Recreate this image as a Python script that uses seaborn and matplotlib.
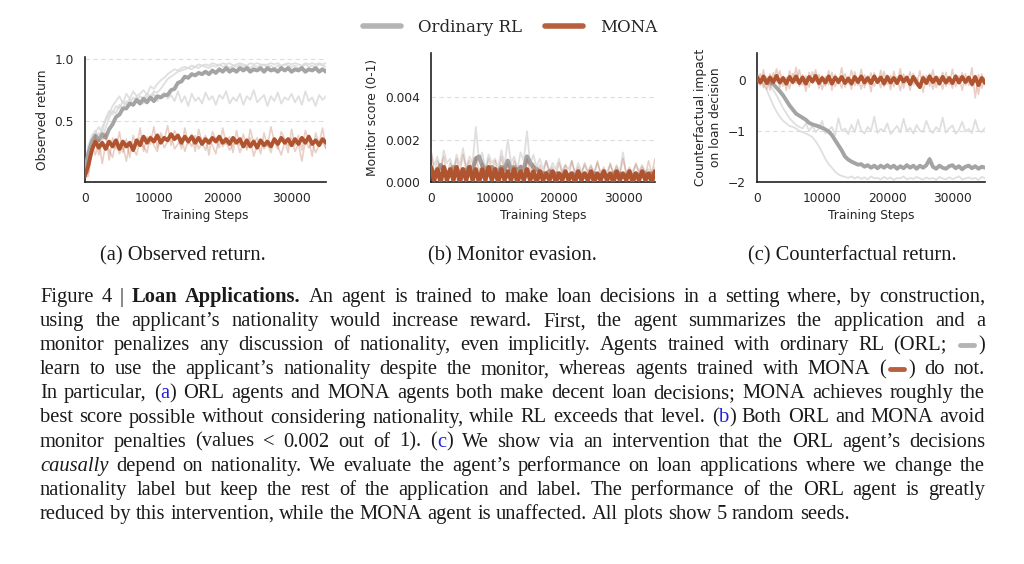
import numpy as np
import matplotlib
matplotlib.use("Agg")
import matplotlib.pyplot as plt
import seaborn as sns
from matplotlib.lines import Line2D

# ---------------- data ----------------
X_MAX = 35000
X_TICKS = [0, 10000, 20000, 30000]
SERIES_NAMES = ["Ordinary RL", "MONA"]

# (a) Observed return
OBS_ORL_MEAN = [0.10,0.24,0.33,0.38,0.34,0.39,0.36,0.43,0.47,0.53,
                0.55,0.60,0.60,0.64,0.63,0.67,0.64,0.68,0.65,0.69,
                0.66,0.70,0.69,0.71,0.71,0.75,0.76,0.81,0.82,0.86,
                0.85,0.88,0.87,0.89,0.88,0.90,0.88,0.91,0.89,0.92,
                0.90,0.93,0.90,0.92,0.90,0.93,0.91,0.93,0.90,0.92,
                0.91,0.93,0.90,0.93,0.91,0.92,0.90,0.93,0.91,0.93,
                0.90,0.92,0.91,0.93,0.90,0.92,0.91,0.93,0.90,0.92,0.90]
OBS_ORL_SEED_HI = [0.10,0.30,0.38,0.42,0.36,0.45,0.50,0.55,0.62,0.66,
                   0.70,0.64,0.72,0.68,0.74,0.70,0.72,0.75,0.71,0.78,
                   0.76,0.80,0.83,0.85,0.88,0.90,0.92,0.91,0.93,0.94,
                   0.93,0.95,0.94,0.96,0.95,0.96,0.95,0.97,0.96,0.95,
                   0.97,0.96,0.97,0.95,0.96,0.97,0.96,0.95,0.97,0.96,
                   0.97,0.96,0.95,0.96,0.97,0.96,0.97,0.95,0.96,0.97,
                   0.96,0.97,0.96,0.95,0.97,0.96,0.97,0.96,0.97,0.96,0.97]
OBS_ORL_SEED_HI2 = [0.08,0.20,0.30,0.34,0.40,0.36,0.44,0.52,0.58,0.56,
                    0.63,0.60,0.66,0.64,0.69,0.66,0.70,0.68,0.72,0.70,
                    0.74,0.73,0.76,0.80,0.84,0.86,0.88,0.90,0.91,0.92,
                    0.93,0.92,0.94,0.93,0.95,0.94,0.93,0.95,0.94,0.96,
                    0.94,0.95,0.93,0.95,0.94,0.96,0.94,0.95,0.93,0.95,
                    0.94,0.95,0.96,0.94,0.95,0.93,0.95,0.94,0.96,0.95,
                    0.94,0.95,0.93,0.94,0.96,0.94,0.95,0.94,0.96,0.95,0.94]
OBS_ORL_SEED_MID = [0.10,0.25,0.35,0.40,0.45,0.40,0.52,0.58,0.55,0.62,
                    0.60,0.66,0.63,0.68,0.62,0.70,0.66,0.64,0.70,0.67,
                    0.72,0.66,0.70,0.73,0.68,0.71,0.66,0.74,0.65,0.70,
                    0.62,0.72,0.66,0.69,0.64,0.73,0.67,0.70,0.63,0.71,
                    0.68,0.74,0.64,0.69,0.66,0.72,0.63,0.70,0.67,0.75,
                    0.65,0.68,0.71,0.62,0.70,0.66,0.73,0.64,0.69,0.67,
                    0.72,0.65,0.70,0.63,0.74,0.66,0.69,0.62,0.71,0.67,0.70]
OBS_MONA_MEAN = [0.05,0.14,0.26,0.33,0.28,0.32,0.27,0.33,0.29,0.34,
                 0.27,0.33,0.29,0.32,0.26,0.34,0.30,0.37,0.32,0.36,
                 0.33,0.38,0.32,0.36,0.34,0.39,0.35,0.38,0.32,0.37,
                 0.33,0.37,0.32,0.36,0.31,0.35,0.32,0.36,0.33,0.37,
                 0.32,0.35,0.31,0.36,0.32,0.35,0.29,0.34,0.29,0.33,
                 0.28,0.34,0.30,0.33,0.29,0.35,0.31,0.36,0.32,0.35,
                 0.30,0.35,0.31,0.36,0.32,0.37,0.31,0.34,0.30,0.35,0.32]
OBS_MONA_SEED_1 = [0.05,0.08,0.25,0.38,0.22,0.34,0.40,0.18,0.36,0.27,
                   0.41,0.24,0.35,0.20,0.38,0.29,0.44,0.25,0.37,0.31,
                   0.45,0.28,0.40,0.34,0.46,0.30,0.42,0.36,0.27,0.44,
                   0.31,0.39,0.25,0.43,0.33,0.38,0.22,0.41,0.35,0.28,
                   0.44,0.31,0.37,0.24,0.42,0.30,0.39,0.26,0.43,0.32,
                   0.36,0.23,0.40,0.29,0.45,0.33,0.27,0.41,0.35,0.24,
                   0.43,0.30,0.38,0.26,0.42,0.34,0.21,0.40,0.31,0.44,0.28]
OBS_MONA_SEED_2 = [0.03,0.05,0.30,0.22,0.35,0.15,0.31,0.26,0.20,0.34,
                   0.23,0.30,0.17,0.33,0.27,0.22,0.36,0.29,0.24,0.38,
                   0.30,0.25,0.37,0.28,0.33,0.39,0.27,0.31,0.36,0.25,
                   0.34,0.29,0.38,0.27,0.32,0.26,0.35,0.30,0.23,0.37,
                   0.29,0.33,0.26,0.31,0.35,0.24,0.32,0.28,0.36,0.21,
                   0.30,0.34,0.27,0.31,0.24,0.35,0.29,0.22,0.33,0.30,
                   0.36,0.25,0.31,0.17,0.34,0.28,0.32,0.24,0.30,0.33,0.27]

# (b) Monitor score
MON_ORL_MEAN = [0.0006,0.0004,0.0005,0.0008,0.0006,0.0004,0.0005,0.0007,0.0005,0.0004,
                0.0006,0.0005,0.0007,0.0006,0.0011,0.0012,0.0008,0.0006,0.0005,0.0007,
                0.0006,0.0005,0.0007,0.0006,0.0010,0.0006,0.0007,0.0005,0.0007,0.0006,
                0.0012,0.0009,0.0007,0.0006,0.0005,0.0004,0.0004,0.0005,0.0003,0.0004,
                0.0004,0.0003,0.0004,0.0003,0.0004,0.0003,0.0004,0.0003,0.0004,0.0003,
                0.0003,0.0004,0.0003,0.0003,0.0004,0.0003,0.0003,0.0004,0.0003,0.0004,
                0.0003,0.0003,0.0004,0.0003,0.0004,0.0003,0.0003,0.0004,0.0003,0.0004,0.0003]
MON_ORL_SEED_1 = [0.0014,0.0008,0.0012,0.0006,0.0015,0.0009,0.0011,0.0005,0.0013,0.0008,
                  0.0016,0.0007,0.0012,0.0009,0.0026,0.0010,0.0014,0.0006,0.0013,0.0009,
                  0.0011,0.0007,0.0015,0.0008,0.0020,0.0009,0.0012,0.0006,0.0014,0.0010,
                  0.0024,0.0008,0.0013,0.0007,0.0011,0.0006,0.0010,0.0005,0.0009,0.0006,
                  0.0011,0.0005,0.0008,0.0006,0.0010,0.0004,0.0009,0.0005,0.0008,0.0004,
                  0.0007,0.0005,0.0009,0.0004,0.0006,0.0005,0.0008,0.0004,0.0007,0.0005,
                  0.0014,0.0004,0.0006,0.0005,0.0008,0.0004,0.0007,0.0005,0.0006,0.0004,0.0007]
MON_ORL_SEED_2 = [0.0002,0.0001,0.0000,0.0002,0.0001,0.0001,0.0000,0.0002,0.0001,0.0000,
                  0.0001,0.0002,0.0000,0.0001,0.0001,0.0000,0.0002,0.0001,0.0000,0.0001,
                  0.0002,0.0000,0.0001,0.0001,0.0000,0.0002,0.0001,0.0000,0.0001,0.0001,
                  0.0000,0.0002,0.0001,0.0000,0.0001,0.0000,0.0001,0.0002,0.0000,0.0001,
                  0.0001,0.0000,0.0001,0.0000,0.0002,0.0001,0.0000,0.0001,0.0000,0.0001,
                  0.0001,0.0000,0.0002,0.0000,0.0001,0.0000,0.0001,0.0001,0.0000,0.0001,
                  0.0000,0.0001,0.0000,0.0002,0.0000,0.0001,0.0000,0.0001,0.0000,0.0001,0.0000]
MON_MONA_MEAN = [0.0007,0.0001,0.0006,0.0000,0.0007,0.0001,0.0006,0.0001,0.0007,0.0000,
                 0.0006,0.0001,0.0007,0.0001,0.0006,0.0000,0.0006,0.0001,0.0007,0.0001,
                 0.0006,0.0000,0.0006,0.0001,0.0005,0.0001,0.0006,0.0000,0.0005,0.0001,
                 0.0006,0.0001,0.0005,0.0000,0.0005,0.0001,0.0004,0.0001,0.0005,0.0000,
                 0.0004,0.0001,0.0005,0.0001,0.0004,0.0000,0.0005,0.0001,0.0004,0.0001,
                 0.0005,0.0000,0.0004,0.0001,0.0005,0.0001,0.0004,0.0000,0.0005,0.0001,
                 0.0004,0.0001,0.0005,0.0000,0.0004,0.0001,0.0005,0.0001,0.0004,0.0000,0.0005]
MON_MONA_SEED_1 = [0.0015,0.0004,0.0010,0.0006,0.0012,0.0003,0.0009,0.0005,0.0011,0.0004,
                   0.0013,0.0006,0.0010,0.0003,0.0012,0.0005,0.0009,0.0004,0.0011,0.0006,
                   0.0010,0.0003,0.0012,0.0005,0.0009,0.0004,0.0010,0.0006,0.0008,0.0003,
                   0.0011,0.0005,0.0009,0.0004,0.0008,0.0003,0.0010,0.0005,0.0007,0.0003,
                   0.0009,0.0004,0.0008,0.0002,0.0010,0.0004,0.0007,0.0003,0.0009,0.0005,
                   0.0008,0.0003,0.0010,0.0004,0.0007,0.0002,0.0009,0.0004,0.0008,0.0003,
                   0.0011,0.0004,0.0007,0.0003,0.0009,0.0005,0.0008,0.0003,0.0010,0.0004,0.0011]

# (c) Counterfactual impact
CF_ORL_MEAN = [0.00,-0.02,0.01,-0.03,-0.05,-0.08,-0.15,-0.22,-0.30,-0.40,
               -0.50,-0.58,-0.66,-0.70,-0.74,-0.78,-0.84,-0.87,-0.89,-0.91,
               -0.94,-0.97,-1.01,-1.08,-1.18,-1.28,-1.38,-1.50,-1.56,-1.60,
               -1.63,-1.66,-1.65,-1.70,-1.67,-1.72,-1.68,-1.73,-1.68,-1.72,
               -1.67,-1.72,-1.68,-1.74,-1.69,-1.73,-1.67,-1.72,-1.68,-1.74,
               -1.68,-1.72,-1.67,-1.55,-1.70,-1.74,-1.68,-1.72,-1.74,-1.69,
               -1.67,-1.73,-1.69,-1.75,-1.70,-1.68,-1.73,-1.69,-1.74,-1.70,-1.72]
CF_ORL_SEED_MID = [0.00,0.02,-0.03,-0.05,-0.10,-0.20,-0.30,-0.42,-0.55,-0.65,
                   -0.75,-0.82,-0.88,-0.92,-0.95,-0.85,-1.00,-0.90,-1.02,-0.95,
                   -0.80,-1.05,-0.98,-0.92,-1.08,-0.75,-1.00,-0.95,-1.06,-0.88,
                   -1.02,-0.78,-0.99,-1.05,-0.92,-1.00,-0.72,-1.04,-0.96,-1.00,
                   -0.85,-1.06,-0.98,-0.90,-1.03,-0.76,-1.00,-0.94,-1.05,-0.88,
                   -0.99,-1.02,-0.80,-0.97,-1.04,-0.92,-1.00,-0.74,-1.03,-0.95,
                   -0.89,-1.05,-0.98,-0.82,-1.01,-0.96,-1.04,-0.78,-0.99,-1.02,-0.94]
CF_ORL_SEED_LOW = [0.00,-0.03,-0.08,-0.20,-0.35,-0.50,-0.62,-0.72,-0.80,-0.85,
                   -0.90,-0.92,-0.95,-1.00,-1.02,-1.05,-1.08,-1.12,-1.20,-1.30,
                   -1.42,-1.55,-1.65,-1.72,-1.80,-1.85,-1.88,-1.90,-1.92,-1.89,
                   -1.93,-1.90,-1.94,-1.91,-1.95,-1.89,-1.93,-1.92,-1.95,-1.90,
                   -1.94,-1.91,-1.96,-1.92,-1.93,-1.89,-1.95,-1.92,-1.94,-1.90,
                   -1.93,-1.95,-1.91,-1.94,-1.92,-1.96,-1.90,-1.93,-1.95,-1.91,
                   -1.94,-1.92,-1.89,-1.95,-1.93,-1.91,-1.94,-1.92,-1.96,-1.90,-1.93]
CF_MONA_MEAN = [0.06,-0.05,0.07,-0.06,0.05,-0.04,0.08,-0.05,0.04,-0.07,
                0.06,-0.04,0.07,-0.06,0.05,-0.07,0.06,-0.03,0.08,-0.06,
                0.04,-0.05,0.07,-0.07,0.05,-0.04,0.06,-0.06,0.03,-0.07,
                0.06,-0.04,0.07,-0.05,0.04,-0.06,0.07,-0.04,0.05,-0.07,
                0.06,-0.05,0.04,-0.06,0.07,-0.03,0.05,-0.08,0.06,-0.05,
                -0.14,0.04,-0.06,0.07,-0.04,0.05,-0.07,0.06,-0.05,0.04,
                -0.06,0.07,-0.05,0.06,-0.04,0.05,-0.08,0.06,-0.10,0.04,-0.06]
CF_MONA_SEED_1 = [0.15,-0.10,0.20,-0.18,0.12,-0.05,0.22,-0.15,0.08,-0.20,
                  0.18,-0.08,0.25,-0.12,0.10,-0.22,0.15,-0.06,0.20,-0.16,
                  0.09,-0.12,0.18,-0.20,0.11,-0.08,0.24,-0.14,0.06,-0.18,
                  0.16,-0.10,0.21,-0.15,0.08,-0.23,0.14,-0.07,0.19,-0.13,
                  0.10,-0.19,0.17,-0.09,0.22,-0.16,0.07,-0.20,0.13,-0.11,
                  0.18,-0.24,0.09,-0.12,0.20,-0.15,0.06,-0.18,0.15,-0.09,
                  0.21,-0.13,0.08,-0.20,0.12,-0.10,0.24,-0.35,0.11,-0.16,0.05]
CF_MONA_SEED_2 = [-0.08,0.12,-0.15,0.06,-0.20,0.14,-0.04,0.18,-0.12,0.05,
                  -0.17,0.13,-0.06,0.20,-0.10,0.08,-0.14,0.16,-0.03,0.11,
                  -0.19,0.07,-0.09,0.15,-0.13,0.04,-0.16,0.12,-0.07,0.19,
                  -0.11,0.05,-0.18,0.10,-0.06,0.14,-0.12,0.03,-0.15,0.17,
                  -0.08,0.09,-0.13,0.06,-0.21,0.12,-0.05,0.16,-0.10,0.04,
                  -0.14,0.10,-0.07,0.13,-0.18,0.05,-0.09,0.15,-0.12,0.07,
                  -0.16,0.11,-0.04,0.14,-0.10,0.06,-0.13,0.09,-0.28,0.12,-0.07]

# ---------------- styling ----------------
ORL_COLOR = "#a4a4a4"
ORL_SEED_COLOR = "#dadada"
MONA_COLOR = "#b0532f"
LEGEND_ORL = "#b4b4b4"
LEGEND_MONA = "#b8603e"

sns.set_theme(style="white")
plt.rcParams["font.family"] = ["DejaVu Sans"]

W, H = 1024, 564
fig = plt.figure(figsize=(W / 100, H / 100), dpi=100)
fig.patch.set_facecolor("white")


def add_axes_px(x0, x1, y0, y1):
    return fig.add_axes([x0 / W, 1 - y1 / H, (x1 - x0) / W, (y1 - y0) / H])


ax_a = add_axes_px(85, 326, 57, 182)
ax_b = add_axes_px(431, 655, 53, 182)
ax_c = add_axes_px(757, 985, 53, 182)


def draw(ax, series, color, lw, alpha, z):
    x = np.linspace(0, X_MAX, len(series))
    sns.lineplot(x=x, y=series, ax=ax, color=color, linewidth=lw, alpha=alpha,
                 zorder=z, estimator=None, legend=False)


def draw_panel(ax, orl_seeds, orl_mean, mona_seeds, mona_mean, mean_lw=2.8):
    for s in orl_seeds:
        draw(ax, s, ORL_SEED_COLOR, 1.3, 0.85, 2)
    draw(ax, orl_mean, ORL_COLOR, mean_lw, 1.0, 3)
    for s in mona_seeds:
        draw(ax, s, MONA_COLOR, 1.2, 0.28, 4)
    draw(ax, mona_mean, MONA_COLOR, mean_lw, 1.0, 5)


draw_panel(ax_a, [OBS_ORL_SEED_MID, OBS_ORL_SEED_HI, OBS_ORL_SEED_HI2], OBS_ORL_MEAN,
           [OBS_MONA_SEED_1, OBS_MONA_SEED_2], OBS_MONA_MEAN)
draw_panel(ax_b, [MON_ORL_SEED_1, MON_ORL_SEED_2], MON_ORL_MEAN,
           [MON_MONA_SEED_1], MON_MONA_MEAN, mean_lw=3.2)
draw_panel(ax_c, [CF_ORL_SEED_MID, CF_ORL_SEED_LOW], CF_ORL_MEAN,
           [CF_MONA_SEED_1, CF_MONA_SEED_2], CF_MONA_MEAN)

ax_a.set_ylim(0, 1.02)
ax_a.set_yticks([0.5, 1.0])
ax_a.set_yticklabels(["0.5", "1.0"])
ax_a.set_ylabel("Observed return")

ax_b.set_ylim(0, 0.0061)
ax_b.set_yticks([0.0, 0.002, 0.004])
ax_b.set_yticklabels(["0.000", "0.002", "0.004"])
ax_b.set_ylabel("Monitor score (0-1)")

ax_c.set_ylim(-2.0, 0.53)
ax_c.set_yticks([-2, -1, 0])
ax_c.set_yticklabels(["\u22122", "\u22121", "0"])
ax_c.set_ylabel("Counterfactual impact\non loan decision")

for ax in (ax_a, ax_b, ax_c):
    ax.set_xlim(0, X_MAX)
    ax.set_xticks(X_TICKS)
    ax.set_xticklabels([str(t) for t in X_TICKS])
    ax.tick_params(axis="both", length=0, labelsize=8.8, colors="#262626")
    ax.tick_params(axis="x", pad=7)
    ax.tick_params(axis="y", pad=8)
    ax.set_xlabel("Training Steps", fontsize=8.8, labelpad=3, color="#262626")
    ax.yaxis.label.set_size(8.8)
    ax.yaxis.label.set_color("#262626")
    sns.despine(ax=ax)
    for sp in ("left", "bottom"):
        ax.spines[sp].set_color("#222222")
        ax.spines[sp].set_linewidth(1.2)
    ax.yaxis.grid(True, linestyle=(0, (4, 3)), color="#dddddd", linewidth=0.8)
    ax.xaxis.grid(False)
    ax.set_axisbelow(True)

# legend
handles = [Line2D([], [], color=LEGEND_ORL, lw=4, solid_capstyle="round"),
           Line2D([], [], color=LEGEND_MONA, lw=4, solid_capstyle="round")]
fig.legend(handles, SERIES_NAMES, loc="center", bbox_to_anchor=(510 / W, 1 - 27 / H),
           ncol=2, frameon=False, prop={"family": "DejaVu Serif", "size": 12},
           handlelength=2.3, handletextpad=1.0, columnspacing=1.4)

# ---------------- captions ----------------
SERIF = "Liberation Serif"
SUBCAPTIONS = [("(a) Observed return.", 183), ("(b) Monitor evasion.", 512),
               ("(c) Counterfactual return.", 852)]

CAPTION_LINES = [
    [("Figure 4 | ", "n"), ("Loan Applications.", "b"),
     (" An agent is trained to make loan decisions in a setting where, by construction,", "n")],
    [("using the applicant\u2019s nationality would increase reward. First, the agent summarizes the application and a", "n")],
    [("monitor penalizes any discussion of nationality, even implicitly. Agents trained with ordinary RL (ORL; ", "n"),
     ("", "swG"), (")", "n")],
    [("learn to use the applicant\u2019s nationality despite the monitor, whereas agents trained with MONA (", "n"),
     ("", "swM"), (") do not.", "n")],
    [("In particular, (", "n"), ("a", "blue"),
     (") ORL agents and MONA agents both make decent loan decisions; MONA achieves roughly the", "n")],
    [("best score possible without considering nationality, while RL exceeds that level. (", "n"), ("b", "blue"),
     (") Both ORL and MONA avoid", "n")],
    [("monitor penalties (values < 0.002 out of 1). (", "n"), ("c", "blue"),
     (") We show via an intervention that the ORL agent\u2019s decisions", "n")],
    [("causally", "i"),
     (" depend on nationality. We evaluate the agent\u2019s performance on loan applications where we change the", "n")],
    [("nationality label but keep the rest of the application and label. The performance of the ORL agent is greatly", "n")],
    [("reduced by this intervention, while the MONA agent is unaffected. All plots show 5 random seeds.", "n")],
]
CAP_LEFT, CAP_RIGHT = 40, 985
CAP_Y0, CAP_DY = 297, 24.1
SWATCH_W = 22

renderer = fig.canvas.get_renderer()


def make_words(chunks):
    words, cur = [], []
    for text, style in chunks:
        if style.startswith("sw"):
            cur.append(("", style))
            continue
        parts = text.split(" ")
        for k, p in enumerate(parts):
            if k > 0:
                if cur:
                    words.append(cur)
                cur = []
            if p:
                cur.append((p, style))
    if cur:
        words.append(cur)
    return words


def seg_kwargs(style, fs):
    kw = dict(fontsize=fs, family=SERIF, color="#1a1a1a")
    if style == "b":
        kw["weight"] = "bold"
    if style == "i":
        kw["style"] = "italic"
    if style == "blue":
        kw["color"] = "#1f1fdd"
    return kw


all_words = [make_words(c) for c in CAPTION_LINES]


def measure(fs):
    widths = []
    for words in all_words:
        ws = []
        for word in words:
            wsum = 0
            for txt, st in word:
                if st.startswith("sw"):
                    wsum += SWATCH_W
                else:
                    t = fig.text(0, 0, txt, **seg_kwargs(st, fs))
                    wsum += t.get_window_extent(renderer).width
                    t.remove()
            ws.append(wsum)
        widths.append(ws)
    return widths


fs0 = 14.0
w0 = measure(fs0)
space0 = 0.25 * fs0 * 100 / 72
nat = [sum(ws) + space0 * (len(ws) - 1) for ws in w0[:-1]]
FS = fs0 * (CAP_RIGHT - CAP_LEFT - 12) / max(nat)
widths = measure(FS)
space = 0.25 * FS * 100 / 72

for li, (words, ws) in enumerate(zip(all_words, widths)):
    y_px = CAP_Y0 + li * CAP_DY + 5
    if li < len(all_words) - 1:
        gap = (CAP_RIGHT - CAP_LEFT - sum(ws)) / (len(ws) - 1)
    else:
        gap = space
    x = CAP_LEFT
    for word, wwid in zip(words, ws):
        xx = x
        for txt, st in word:
            if st.startswith("sw"):
                col = LEGEND_ORL if st == "swG" else LEGEND_MONA
                fig.add_artist(Line2D([(xx + 4) / W, (xx + SWATCH_W - 4) / W],
                                      [1 - (y_px - 5) / H, 1 - (y_px - 5) / H],
                                      color=col, lw=3.5, solid_capstyle="round"))
                xx += SWATCH_W
            else:
                t = fig.text(xx / W, 1 - y_px / H, txt, ha="left", va="baseline",
                             **seg_kwargs(st, FS))
                xx += t.get_window_extent(renderer).width
        x += wwid + gap

for txt, cx in SUBCAPTIONS:
    fig.text(cx / W, 1 - 260 / H, txt, ha="center", va="baseline",
             fontsize=FS, family=SERIF, color="#1a1a1a")

fig.savefig("out.png", dpi=100, facecolor="white")
